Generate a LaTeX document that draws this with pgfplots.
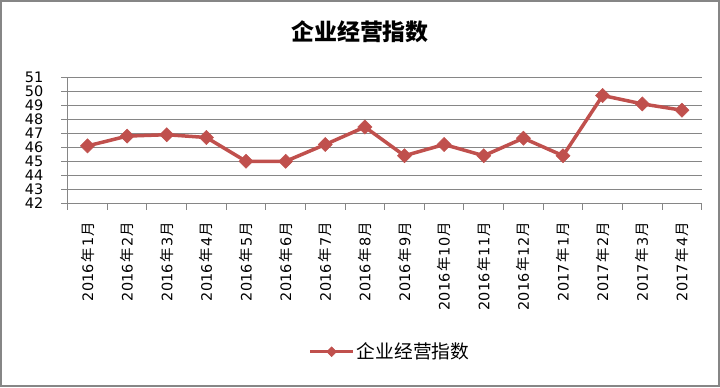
\documentclass[border=0pt]{standalone}
\usepackage{fontspec}
\usepackage{pgfplots}
\pgfplotsset{compat=1.18}
\setmainfont{DejaVu Sans}
\newfontfamily\cjk{Noto Sans CJK SC}
\definecolor{ser}{RGB}{192,80,77}
\definecolor{gridc}{RGB}{134,134,134}
\newcommand{\lab}[2]{\mbox{#1\hspace{1.5bp}{\cjk 年}\hspace{1.5bp}#2\hspace{1.5bp}{\cjk 月}}}
\begin{document}
\begin{tikzpicture}[x=1bp,y=1bp]
\path[use as bounding box] (0,0) rectangle (720,387);
\draw[gridc, line width=2bp] (1,1) rectangle (719,386);
\node[font=\fontsize{23}{27}\selectfont\cjk\bfseries] at (360,355.3) {企业经营指数};
\begin{axis}[
  at={(67.7bp,183.7bp)}, anchor=south west,
  width=634bp, height=126bp, scale only axis,
  xmin=-0.5, xmax=15.5, ymin=42, ymax=51,
  xtick={-0.5,0.5,...,15.5}, x tick label as interval,
  xticklabels={\lab{2016}{1},\lab{2016}{2},\lab{2016}{3},\lab{2016}{4},\lab{2016}{5},\lab{2016}{6},\lab{2016}{7},\lab{2016}{8},\lab{2016}{9},\lab{2016}{10},\lab{2016}{11},\lab{2016}{12},\lab{2017}{1},\lab{2017}{2},\lab{2017}{3},\lab{2017}{4}},
  ytick={42,43,...,51},
  /pgf/number format/assume math mode=true,
  axis x line*=bottom, axis y line*=left,
  axis line style={gridc, line width=1bp, -},
  ymajorgrids, grid style={gridc, line width=1bp},
  tick style={gridc, line width=1bp},
  major tick length=6.5bp, tick align=outside,
  tick label style={font=\fontsize{14.5}{16}\selectfont},
  xticklabel style={rotate=90, anchor=east, inner sep=0pt},
  xticklabel shift=11.7bp,
  yticklabel style={inner sep=0pt, anchor=east},
  yticklabel shift=17.7bp,
  clip=false,
  legend style={at={(0.508,-1.178)}, anchor=center, draw=none, fill=none,
    font=\fontsize{18.8}{20}\selectfont\cjk, inner sep=0pt},
  legend cell align=left,
  legend image code/.code={\draw[ser, line width=3.5bp, mark=square*, mark size=3.5bp, mark repeat=2, mark phase=2, mark options={solid, line width=0.5bp, fill=ser, rotate=45}] plot coordinates {(0bp,0bp)(21.5bp,0bp)(43bp,0bp)};},
]
\addplot[ser, line width=3.5bp, mark=square*, mark size=5bp,
  mark options={solid, fill=ser, line width=0.5bp, rotate=45}]
  coordinates {(0,46.1)(1,46.8)(2,46.9)(3,46.7)(4,45.0)(5,45.0)(6,46.2)(7,47.45)
  (8,45.4)(9,46.2)(10,45.4)(11,46.65)(12,45.4)(13,49.7)(14,49.1)(15,48.65)};
\addlegendentry{企业经营指数}
\end{axis}
\end{tikzpicture}
\end{document}
